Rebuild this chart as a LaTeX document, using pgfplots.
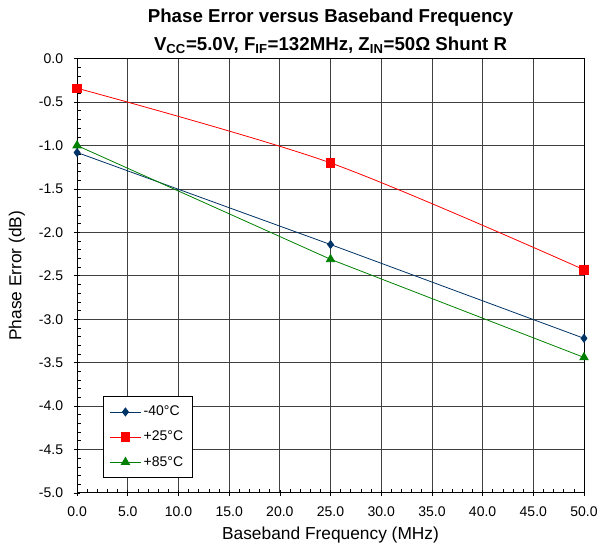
\documentclass[border=0pt]{standalone}
\usepackage{pgfplots}
\pgfplotsset{compat=1.18}
\usepackage{fontspec}
\setmainfont{Liberation Sans}

\definecolor{navy}{RGB}{0,51,102}
\definecolor{redc}{RGB}{255,0,0}
\definecolor{greenc}{RGB}{0,128,0}

\begin{document}
\begin{tikzpicture}
% fixed frame: margins as in the reference
\useasboundingbox (-57.8pt,-38.3pt) rectangle (392pt,369.5pt);
\begin{axis}[
    at={(0,0)}, anchor=south west,
    scale only axis,
    width=380pt, height=325.5pt,
    xmin=0, xmax=50,
    ymin=-5, ymax=0,
    xtick={0,5,...,50},
    ytick={-5,-4.5,...,0},
    minor x tick num=4,
    minor y tick num=4,
    xtick pos=bottom, ytick pos=left,
    tick align=center,
    major tick length=5pt,
    minor tick length=3pt,
    minor x tick style={yshift=1.5pt},
    minor y tick style={xshift=1.5pt},
    grid=major,
    major grid style={black!75, line width=0.6pt},
    axis line style={black, line width=0.6pt},
    tick style={black, line width=0.5pt},
    /pgf/number format/assume math mode=true,
    /pgf/number format/.cd, fixed, fixed zerofill, precision=1,
    /pgfplots/.cd,
    ticklabel style={font=\fontsize{10.5}{12}\selectfont},
    yticklabel style={xshift=-4.5pt},
    xticklabel style={yshift=-4pt},
    xlabel={Baseband Frequency (MHz)},
    ylabel={Phase Error (dB)},
    xlabel shift=1.5pt,
    ylabel shift=3.6pt,
    label style={font=\fontsize{13}{15}\selectfont},
    title={\bfseries Phase Error versus Baseband Frequency\\
           \bfseries V\textsubscript{CC}=5.0V, F\textsubscript{IF}=132MHz, Z\textsubscript{IN}=50Ω Shunt R},
    title style={font=\fontsize{14}{21.5}\selectfont, align=center, yshift=-6pt},
    legend style={at={(0.051,0.035)}, anchor=south west, draw=black,
        font=\fontsize{10.5}{12}\selectfont, row sep=6pt, inner sep=5pt,
        cells={anchor=west}},
    legend cell align=left,
    legend image code/.code={
        \draw[mark repeat=2,mark phase=2]
        plot coordinates {(0cm,0cm)(0.4cm,0cm)(0.8cm,0cm)};
    },
]

\addplot[color=navy, line width=0.6pt, mark=diamond*, mark size=3pt,
    mark options={fill=navy}]
    coordinates {(0,-1.08)(25,-2.14)(50,-3.22)};
\addlegendentry{-40°C}

\addplot[color=redc, line width=0.6pt, smooth, mark=square*, mark size=3.2pt,
    mark options={fill=redc}]
    coordinates {(0,-0.34)(25,-1.20)(50,-2.43)};
\addlegendentry{+25°C}

\addplot[color=greenc, line width=0.6pt, mark=triangle*, mark size=3.6pt,
    mark options={fill=greenc}]
    coordinates {(0,-1.00)(25,-2.31)(50,-3.44)};
\addlegendentry{+85°C}

\end{axis}
\end{tikzpicture}
\end{document}
